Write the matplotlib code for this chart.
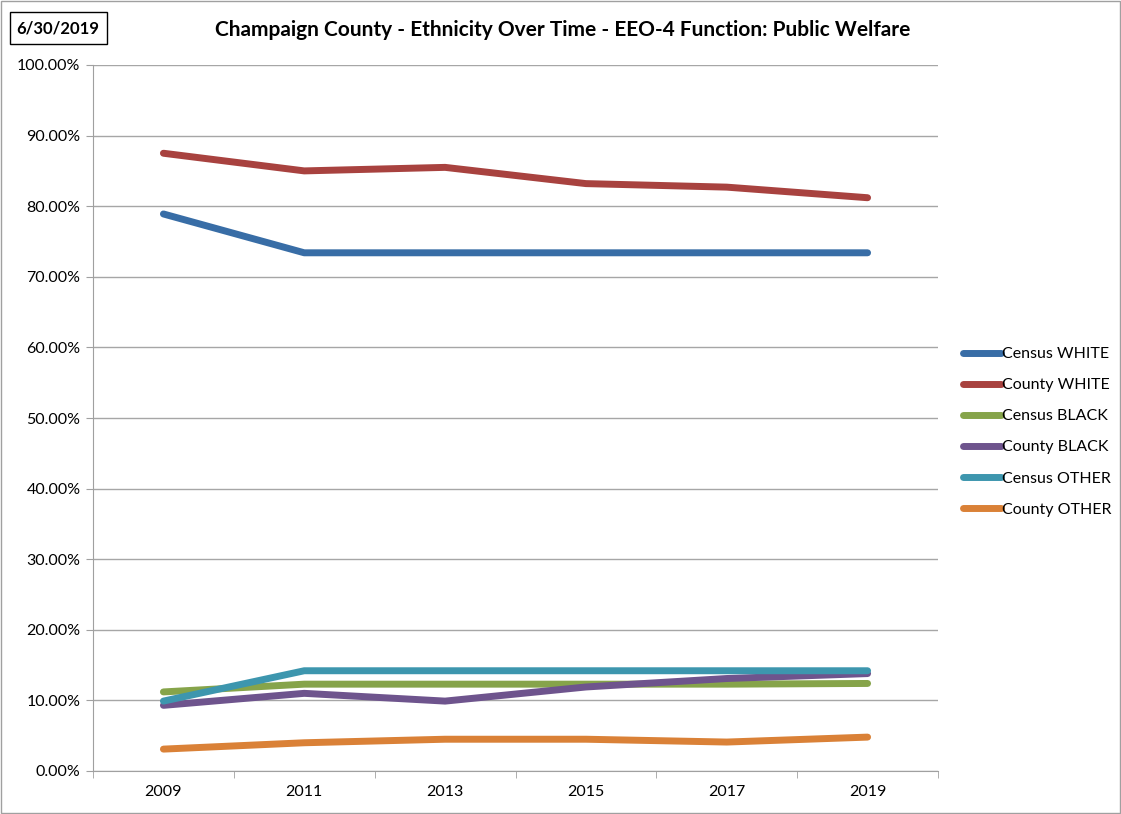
import matplotlib
matplotlib.use("Agg")
import matplotlib.pyplot as plt
from matplotlib.patches import Rectangle
from matplotlib.ticker import FuncFormatter, MultipleLocator, FixedLocator

years = ["2009", "2011", "2013", "2015", "2017", "2019"]
census_white = [78.9, 73.4, 73.4, 73.4, 73.4, 73.4]
county_white = [87.5, 85.0, 85.5, 83.2, 82.7, 81.2]
census_black = [11.2, 12.3, 12.3, 12.3, 12.3, 12.4]
county_black = [9.3, 11.0, 9.9, 11.9, 13.1, 13.8]
census_other = [9.9, 14.2, 14.2, 14.2, 14.2, 14.2]
county_other = [3.1, 4.0, 4.5, 4.5, 4.1, 4.8]

series = [
    ("Census WHITE", census_white, "#386DA6"),
    ("County WHITE", county_white, "#A8423F"),
    ("Census BLACK", census_black, "#86A44A"),
    ("County BLACK", county_black, "#6E548D"),
    ("Census OTHER", census_other, "#3D96AE"),
    ("County OTHER", county_other, "#DA8137"),
]

plt.rcParams["font.family"] = ["Lato", "DejaVu Sans"]

fig = plt.figure(figsize=(11.21, 8.14), dpi=100)
ax = fig.add_axes([93 / 1121, 1 - 771 / 814, 845 / 1121, 706 / 814])

x = list(range(len(years)))
for label, vals, color in series:
    ax.plot(x, vals, color=color, lw=5, solid_capstyle="round",
            solid_joinstyle="round", label=label)

ax.set_xlim(-0.5, len(years) - 0.5)
ax.set_ylim(0, 100)
ax.yaxis.set_major_locator(MultipleLocator(10))
ax.yaxis.set_major_formatter(FuncFormatter(lambda v, p: f"{v:.2f}%"))
ax.set_xticks(x)
ax.set_xticklabels(years)
ax.xaxis.set_minor_locator(FixedLocator([i - 0.5 for i in range(len(years) + 1)]))
ax.tick_params(axis="x", which="major", length=0, labelsize=11.5, pad=10)
ax.tick_params(axis="x", which="minor", length=5, color="#A0A0A0", direction="out")
ax.tick_params(axis="y", length=5, color="#A0A0A0", labelsize=11.5, pad=4)

ax.grid(axis="y", color="#A6A6A6", lw=1)
ax.set_axisbelow(True)
for side in ["top", "right"]:
    ax.spines[side].set_visible(False)
for side in ["left", "bottom"]:
    ax.spines[side].set_color("#A0A0A0")

fig.legend(loc="upper left", bbox_to_anchor=(955 / 1121, 1 - 339 / 814),
           frameon=False, fontsize=11.5, handlelength=2.4, handletextpad=0.05,
           labelspacing=1.06, borderpad=0)

fig.text(563 / 1121, 1 - 30 / 814,
         "Champaign County - Ethnicity Over Time - EEO-4 Function: Public Welfare",
         ha="center", va="center", fontsize=15, fontweight="bold")
fig.text(58 / 1121, 1 - 28 / 814, "6/30/2019", ha="center", va="center",
         fontsize=12, fontweight="bold")
fig.patches.append(Rectangle((10 / 1121, 1 - 44 / 814), 97 / 1121, 32 / 814,
                             transform=fig.transFigure, fill=False,
                             edgecolor="black", lw=1))
fig.patches.append(Rectangle((1 / 1121, 1 / 814), 1119 / 1121, 812 / 814,
                             transform=fig.transFigure, fill=False,
                             edgecolor="#A0A0A0", lw=1))

fig.savefig("out.png", dpi=100)
